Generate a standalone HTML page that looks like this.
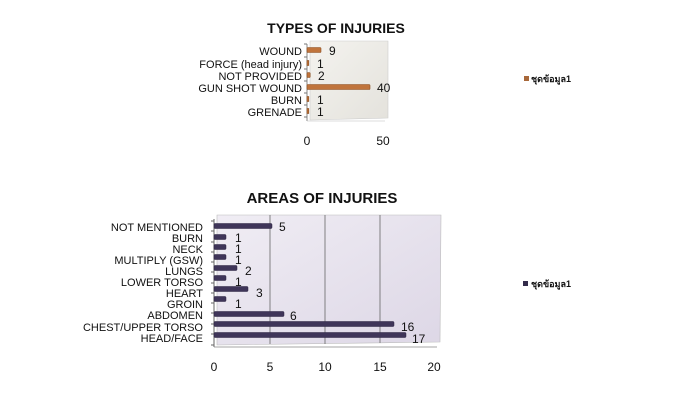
<!DOCTYPE html>
<html><head><meta charset="utf-8"><style>
body{margin:0;background:#fff;}
svg{display:block;font-family:"Liberation Sans","Noto Sans CJK SC",sans-serif;}
</style></head><body>
<svg width="674" height="404" viewBox="0 0 674 404" xmlns="http://www.w3.org/2000/svg">
<defs>
<linearGradient id="w1" x1="0" y1="0" x2="1" y2="1"><stop offset="0" stop-color="#f4f3ef"/><stop offset="1" stop-color="#e4e2dc"/></linearGradient>
<linearGradient id="w2" x1="0" y1="0" x2="1" y2="1"><stop offset="0" stop-color="#f0edf4"/><stop offset="1" stop-color="#ddd7e6"/></linearGradient>
</defs>
<text x="336" y="33" font-size="14" font-weight="bold" text-anchor="middle" fill="#111">TYPES OF INJURIES</text>
<polygon points="310,41 388,41 388,118 310,120" fill="url(#w1)" stroke="#ccc" stroke-width="0.6"/>
<line x1="307" y1="44" x2="307" y2="121" stroke="#888" stroke-width="1"/>
<line x1="307" y1="121" x2="385" y2="121" stroke="#bbb" stroke-width="0.6"/>
<g stroke="#777" stroke-width="1">
<line x1="304" y1="44" x2="307" y2="44"/><line x1="304" y1="57" x2="307" y2="57"/><line x1="304" y1="69" x2="307" y2="69"/><line x1="304" y1="81" x2="307" y2="81"/><line x1="304" y1="93" x2="307" y2="93"/><line x1="304" y1="105" x2="307" y2="105"/><line x1="304" y1="117" x2="307" y2="117"/>
</g>
<g fill="#c0743c" stroke="#8a4f22" stroke-width="0.6">
<rect x="307" y="47.5" width="14" height="5" rx="1"/>
<rect x="307" y="60.5" width="1.8" height="5"/>
<rect x="307" y="72.5" width="3.2" height="5" rx="1"/>
<rect x="307" y="84.5" width="63" height="5" rx="1"/>
<rect x="307" y="96.5" width="1.8" height="5"/>
<rect x="307" y="108.5" width="1.8" height="5"/>
</g>
<g font-size="11" fill="#111" text-anchor="end">
<text x="302" y="55">WOUND</text>
<text x="302" y="68">FORCE (head injury)</text>
<text x="302" y="80">NOT PROVIDED</text>
<text x="302" y="92">GUN SHOT WOUND</text>
<text x="302" y="104">BURN</text>
<text x="302" y="116">GRENADE</text>
</g>
<g font-size="12" fill="#111">
<text x="329" y="55">9</text><text x="317" y="68">1</text><text x="318" y="80">2</text>
<text x="377" y="92">40</text><text x="317" y="104">1</text><text x="317" y="116">1</text>
</g>
<g font-size="12" fill="#111" text-anchor="middle">
<text x="307" y="145">0</text><text x="383" y="145">50</text>
</g>
<rect x="524" y="76" width="5" height="5" fill="#a8683a"/>
<text x="531" y="82" font-size="9" font-weight="bold" fill="#111">ชุดข้อมูล1</text>

<text x="322" y="203" font-size="15" font-weight="bold" text-anchor="middle" fill="#111">AREAS OF INJURIES</text>
<polygon points="217,215 441,215 440,342 217,345" fill="url(#w2)" stroke="#bbb" stroke-width="0.6"/>
<g stroke="#666" stroke-width="0.8">
<line x1="270" y1="215" x2="270" y2="344"/><line x1="325" y1="215" x2="325" y2="344"/><line x1="380" y1="215" x2="380" y2="343"/>
</g>
<line x1="214" y1="219" x2="214" y2="347" stroke="#666" stroke-width="1"/>
<line x1="214" y1="347" x2="437" y2="347" stroke="#888" stroke-width="0.8"/>
<g stroke="#666" stroke-width="1">
<line x1="211" y1="221" x2="214" y2="221"/><line x1="211" y1="231" x2="214" y2="231"/><line x1="211" y1="242" x2="214" y2="242"/><line x1="211" y1="252" x2="214" y2="252"/><line x1="211" y1="262" x2="214" y2="262"/><line x1="211" y1="272" x2="214" y2="272"/><line x1="211" y1="283" x2="214" y2="283"/><line x1="211" y1="293" x2="214" y2="293"/><line x1="211" y1="303" x2="214" y2="303"/><line x1="211" y1="313" x2="214" y2="313"/><line x1="211" y1="324" x2="214" y2="324"/><line x1="211" y1="334" x2="214" y2="334"/><line x1="211" y1="345" x2="214" y2="345"/>
</g>
<g fill="#3f3559" stroke="#2a2240" stroke-width="0.5">
<rect x="214" y="223.5" width="58" height="5" rx="1"/>
<rect x="214" y="234.5" width="12" height="5" rx="1"/>
<rect x="214" y="244.5" width="12" height="5" rx="1"/>
<rect x="214" y="254.5" width="12" height="5" rx="1"/>
<rect x="214" y="265.5" width="23" height="5" rx="1"/>
<rect x="214" y="275.5" width="12" height="5" rx="1"/>
<rect x="214" y="286.5" width="34" height="5" rx="1"/>
<rect x="214" y="296.5" width="12" height="5" rx="1"/>
<rect x="214" y="311.5" width="70" height="5" rx="1"/>
<rect x="214" y="321.5" width="180" height="5" rx="1"/>
<rect x="214" y="332.5" width="192" height="5" rx="1"/>
</g>
<g font-size="11" fill="#111" text-anchor="end">
<text x="203" y="231">NOT MENTIONED</text>
<text x="203" y="242">BURN</text>
<text x="203" y="253">NECK</text>
<text x="203" y="264">MULTIPLY (GSW)</text>
<text x="203" y="275">LUNGS</text>
<text x="203" y="286">LOWER TORSO</text>
<text x="203" y="297">HEART</text>
<text x="203" y="308">GROIN</text>
<text x="203" y="319">ABDOMEN</text>
<text x="203" y="331">CHEST/UPPER TORSO</text>
<text x="203" y="342">HEAD/FACE</text>
</g>
<g font-size="12" fill="#111">
<text x="279" y="231">5</text><text x="235" y="242">1</text><text x="235" y="253">1</text><text x="235" y="264">1</text>
<text x="245" y="275">2</text><text x="235" y="286">1</text><text x="256" y="297">3</text><text x="235" y="308">1</text>
<text x="290" y="320">6</text><text x="401" y="331">16</text><text x="412" y="343">17</text>
</g>
<g font-size="12" fill="#111" text-anchor="middle">
<text x="214" y="371">0</text><text x="270" y="371">5</text><text x="325" y="371">10</text><text x="380" y="371">15</text><text x="434" y="371">20</text>
</g>
<rect x="523" y="281" width="5" height="5" fill="#332b4a"/>
<text x="531" y="287" font-size="9" font-weight="bold" fill="#111">ชุดข้อมูล1</text>
</svg>
</body></html>
